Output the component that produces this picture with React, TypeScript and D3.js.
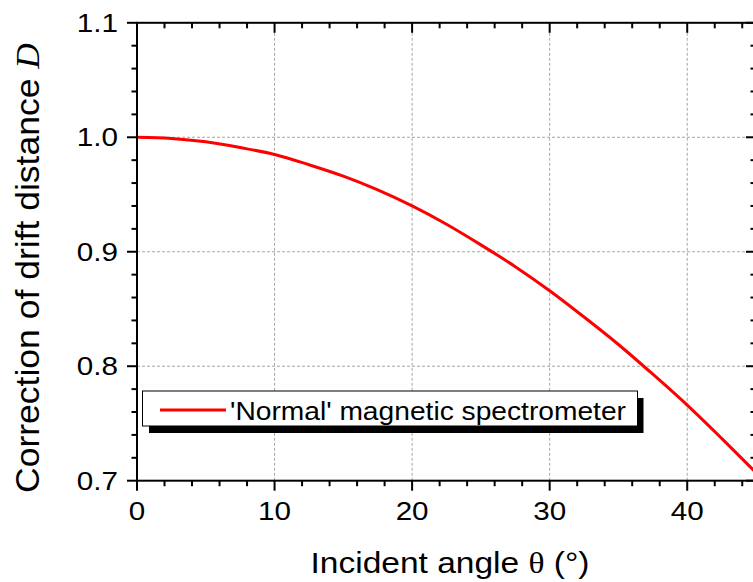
import React from "react";
import * as d3 from "d3";

const angles = [0, 2.5, 5, 7.5, 10, 12.5, 15, 17.5, 20, 22.5, 25, 27.5, 30, 32.5, 35, 37.5, 40, 42.5, 45];
const correction = [1.0, 0.999, 0.996, 0.991, 0.985, 0.976, 0.966, 0.954, 0.94, 0.924, 0.906, 0.887, 0.866, 0.843, 0.819, 0.793, 0.766, 0.737, 0.707];
const xMajor = [0, 10, 20, 30, 40];
const yMajor = [0.7, 0.8, 0.9, 1.0, 1.1];
const xGrid = [10, 20, 30, 40];
const yGrid = [0.8, 0.9, 1.0];
const seriesName = "'Normal' magnetic spectrometer";

const W = 753, H = 582;
const L = 137, R = 756, T = 22.8, B = 480.7;
const SX = 1.14;

export default function App() {
  const x = d3.scaleLinear().domain([0, 45]).range([L, R]);
  const y = d3.scaleLinear().domain([0.7, 1.1]).range([B, T]);
  const xMinor = d3.range(0, 46, 2).filter((v) => v % 10 !== 0);
  const yMinor = d3.range(0, 21).map((i) => 0.7 + i * 0.02).filter((v) => Math.abs(v * 10 - Math.round(v * 10)) > 1e-6);
  const pts = angles.map((a, i) => [a, correction[i]] as [number, number]);
  const line = d3.line<[number, number]>().x((d) => x(d[0])).y((d) => y(d[1])).curve(d3.curveMonotoneX);
  const font = "'Liberation Sans', Arial, sans-serif";
  const tickStyle = { fontSize: "26px", fontFamily: font };
  return (
    <svg width={W} height={H} style={{ position: "absolute", left: 0, top: 0, background: "#fff", fontFamily: font }}>
      <defs>
        <clipPath id="plot">
          <rect x={L} y={T} width={R - L} height={B - T} />
        </clipPath>
      </defs>
      {xGrid.map((v) => (
        <line key={"gx" + v} x1={x(v)} x2={x(v)} y1={T} y2={B} stroke="#a6a6a6" strokeWidth={1} strokeDasharray="3,2" />
      ))}
      {yGrid.map((v) => (
        <line key={"gy" + v} x1={L} x2={R} y1={y(v)} y2={y(v)} stroke="#a6a6a6" strokeWidth={1} strokeDasharray="3,2" />
      ))}
      <path d={line(pts) || ""} fill="none" stroke="#ff0000" strokeWidth={3} clipPath="url(#plot)" />
      <rect x={L} y={T} width={R - L} height={B - T} fill="none" stroke="#000" strokeWidth={2} />
      {xMajor.map((v) => (
        <g key={"xt" + v}>
          <line x1={x(v)} x2={x(v)} y1={B} y2={B + 10} stroke="#000" strokeWidth={2} />
          <line x1={x(v)} x2={x(v)} y1={T} y2={T + 10} stroke="#000" strokeWidth={2} />
          <text transform={`translate(${x(v)},519.5) scale(${SX},1)`} style={tickStyle} textAnchor="middle" fill="#000">{v}</text>
        </g>
      ))}
      {xMinor.map((v) => (
        <g key={"xm" + v}>
          <line x1={x(v)} x2={x(v)} y1={B} y2={B + 5.5} stroke="#000" strokeWidth={2} />
          <line x1={x(v)} x2={x(v)} y1={T} y2={T + 5.5} stroke="#000" strokeWidth={2} />
        </g>
      ))}
      {yMajor.map((v) => (
        <g key={"yt" + v}>
          <line x1={L - 10} x2={L} y1={y(v)} y2={y(v)} stroke="#000" strokeWidth={2} />
          <line x1={R - 10} x2={R} y1={y(v)} y2={y(v)} stroke="#000" strokeWidth={2} />
          <text transform={`translate(118,${y(v) + 9.2}) scale(${SX},1)`} style={tickStyle} textAnchor="end" fill="#000">{v.toFixed(1)}</text>
        </g>
      ))}
      {yMinor.map((v) => (
        <g key={"ym" + v}>
          <line x1={L - 5.5} x2={L} y1={y(v)} y2={y(v)} stroke="#000" strokeWidth={2} />
          <line x1={R - 5.5} x2={R} y1={y(v)} y2={y(v)} stroke="#000" strokeWidth={2} />
        </g>
      ))}
      <rect x={149} y={398} width={494.5} height={35} fill="#000" />
      <rect x={142.5} y={391} width={495} height={35} fill="#fff" stroke="#000" strokeWidth={1} />
      <line x1={160} x2={226} y1={410} y2={410} stroke="#ff0000" strokeWidth={3} />
      <text x={230} y={420} style={{ fontSize: "25px", fontFamily: font }} textLength={396} lengthAdjust="spacingAndGlyphs" fill="#000">{seriesName}</text>
      <text x={450} y={572.5} style={{ fontSize: "29px", fontFamily: font }} textAnchor="middle" textLength={279} lengthAdjust="spacingAndGlyphs" fill="#000">
        Incident angle <tspan style={{ fontFamily: "'Liberation Serif', serif" }}>θ</tspan> (°)
      </text>
      <text transform="translate(38.5,268) rotate(-90)" x={0} y={0} style={{ fontSize: "34px", fontFamily: font }} textAnchor="middle" textLength={450} lengthAdjust="spacingAndGlyphs" fill="#000">
        Correction of drift distance <tspan style={{ fontFamily: "'Liberation Serif', serif", fontStyle: "italic" }}>D</tspan>
      </text>
    </svg>
  );
}
